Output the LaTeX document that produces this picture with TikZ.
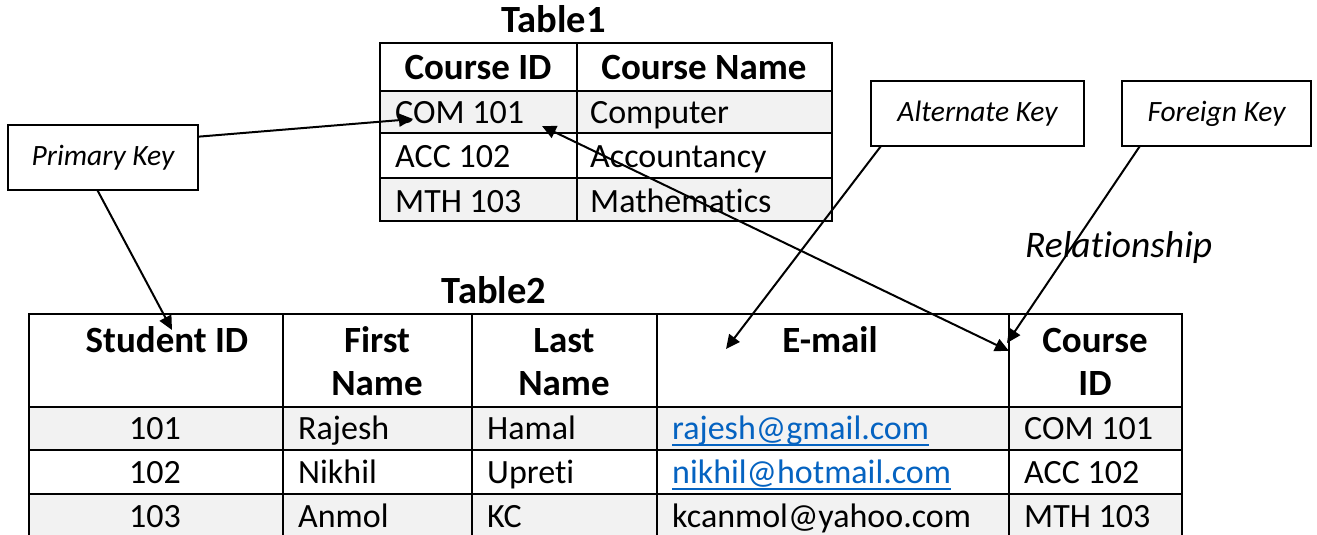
\documentclass[tikz,border=0pt]{standalone}
\usepackage{fontspec}
\setmainfont{Carlito}[Ligatures=NoCommon]
\usetikzlibrary{arrows.meta,calc}
\definecolor{rowgray}{HTML}{F2F2F2}
\definecolor{linkblue}{HTML}{0563C1}

\tikzset{
  cellbox/.style={draw=black, line width=2pt, inner sep=0pt, outer sep=0pt},
  bodytxt/.style={font=\fontsize{34}{40}\selectfont, inner sep=0pt},
  headtxt/.style={font=\fontsize{37}{43}\selectfont\bfseries, inner sep=0pt, align=center, anchor=base},
  titletxt/.style={font=\fontsize{38.5}{44}\selectfont\bfseries, inner sep=0pt, anchor=base},
  keybox/.style={draw=black, line width=1.6pt, inner sep=0pt, outer sep=0pt,
    font=\fontsize{29.5}{34}\selectfont\itshape},
  pointer/.style={line width=2pt, -{Triangle[length=14pt,width=13pt]}},
  linktxt/.style={bodytxt, text=linkblue, anchor=base west},
  linkline/.style={linkblue, line width=1.8pt},
}

% table cell: name, x1, y1, x2, y2, fill
\newcommand\tabcell[6]{%
  \node[cellbox, fill=#6, minimum width={(#4)-(#2)}, minimum height={(#5)-(#3)}]
    (#1) at ({((#2)+(#4))/2},{((#3)+(#5))/2}) {};%
}

\begin{document}
\begin{tikzpicture}[x=1pt,y=-1pt]
\useasboundingbox[fill=white] (0,0) rectangle (1317,535);

% ---------- Table1 ----------
\node[titletxt] (t1title) at (553.5,33) {Table1};
\tabcell{t1h1}{380}{43}{577}{91}{white}
\tabcell{t1h2}{577}{43}{832}{91}{white}
\tabcell{t1a1}{380}{91}{577}{133}{rowgray}
\tabcell{t1a2}{577}{91}{832}{133}{rowgray}
\tabcell{t1b1}{380}{133}{577}{178}{white}
\tabcell{t1b2}{577}{133}{832}{178}{white}
\tabcell{t1c1}{380}{178}{577}{221}{rowgray}
\tabcell{t1c2}{577}{178}{832}{221}{rowgray}

\node[headtxt] (t1h1t) at (478,80) {Course ID};
\node[headtxt] (t1h2t) at (704,80) {Course Name};
\node[bodytxt, anchor=base west] (t1a1t) at (395,123) {COM 101};
\node[bodytxt, anchor=base west] (t1a2t) at (590,123) {Computer};
\node[bodytxt, anchor=base west] (t1b1t) at (395,167) {ACC 102};
\node[bodytxt, anchor=base west] (t1b2t) at (590,167) {Accountancy};
\node[bodytxt, anchor=base west] (t1c1t) at (395,212) {MTH 103};
\node[bodytxt, anchor=base west] (t1c2t) at (590,212) {Mathematics};

% ---------- Table2 ----------
\node[titletxt] (t2title) at (494,303) {Table2};
\tabcell{t2h1}{29}{314}{283}{407}{white}
\tabcell{t2h2}{283}{314}{472}{407}{white}
\tabcell{t2h3}{472}{314}{657}{407}{white}
\tabcell{t2h4}{657}{314}{1009}{407}{white}
\tabcell{t2h5}{1009}{314}{1182}{407}{white}
\foreach \c/\xa/\xb in {1/29/283, 2/283/472, 3/472/657, 4/657/1009, 5/1009/1182}{
  \tabcell{t2a\c}{\xa}{407}{\xb}{450}{rowgray}
  \tabcell{t2b\c}{\xa}{450}{\xb}{494}{white}
  \tabcell{t2c\c}{\xa}{494}{\xb}{538}{rowgray}
}

% two-line headers: the base anchor sits on the last line
\node[headtxt] (t2h1t) at (167,352) {Student ID};
\node[headtxt] (t2h2t) at (377,395) {First\\Name};
\node[headtxt] (t2h3t) at (564,395) {Last\\Name};
\node[headtxt] (t2h4t) at (830,352) {E-mail};
\node[headtxt] (t2h5t) at (1095,395) {Course\\ID};

\node[bodytxt, anchor=base] (t2a1t) at (155,439) {101};
\node[bodytxt, anchor=base west] (t2a2t) at (298,439) {Rajesh};
\node[bodytxt, anchor=base west] (t2a3t) at (487,439) {Hamal};
\node[linktxt] (t2a4t) at (672,439) {rajesh@gmail.com};
\node[bodytxt, anchor=base west] (t2a5t) at (1024,439) {COM 101};

\node[bodytxt, anchor=base] (t2b1t) at (155,483) {102};
\node[bodytxt, anchor=base west] (t2b2t) at (298,483) {Nikhil};
\node[bodytxt, anchor=base west] (t2b3t) at (487,483) {Upreti};
\node[linktxt] (t2b4t) at (672,483) {nikhil@hotmail.com};
\node[bodytxt, anchor=base west] (t2b5t) at (1024,483) {ACC 102};

\node[bodytxt, anchor=base] (t2c1t) at (155,527) {103};
\node[bodytxt, anchor=base west] (t2c2t) at (298,527) {Anmol};
\node[bodytxt, anchor=base west] (t2c3t) at (487,527) {KC};
\node[bodytxt, anchor=base west] (t2c4t) at (672,527) {kcanmol@yahoo.com};
\node[bodytxt, anchor=base west] (t2c5t) at (1024,527) {MTH 103};

% hyperlink underlines
\draw[linkline] ([yshift=-6pt]t2a4t.base west) -- ([yshift=-6pt]t2a4t.base east);
\draw[linkline] ([yshift=-6pt]t2b4t.base west) -- ([yshift=-6pt]t2b4t.base east);

% ---------- key call-outs ----------
\node[keybox, minimum width=190, minimum height=65] (pk) at (103,157.5) {Primary Key};
\node[keybox, minimum width=213, minimum height=65] (ak) at (977.5,113.5) {Alternate Key};
\node[keybox, minimum width=189, minimum height=65] (fk) at (1216.5,113.5) {Foreign Key};

\node[font=\fontsize{37.5}{44}\selectfont\itshape, inner sep=0pt, anchor=base west]
  (rel) at (1025,257) {Relationship};

% arrow end points inside the cells
\coordinate (pkTip1) at (413,119);
\coordinate (pkTip2) at (172,330);
\coordinate (relA) at (542,126);
\coordinate (relB) at (1009,351);
\coordinate (akTip) at (726,349);
\coordinate (fkTip) at (1007,343);

\draw[pointer] ($(pk.north east)!0.18!(pk.south east)$) -- (pkTip1);
\draw[pointer] ($(pk.south west)!0.47!(pk.south east)$) -- (pkTip2);
\draw[pointer, {Triangle[length=14pt,width=13pt]}-{Triangle[length=14pt,width=13pt]}] (relA) -- (relB);
\draw[pointer] ($(ak.south west)!0.047!(ak.south east)$) -- (akTip);
\draw[pointer] ($(fk.south west)!0.095!(fk.south east)$) -- (fkTip);
\end{tikzpicture}
\end{document}
